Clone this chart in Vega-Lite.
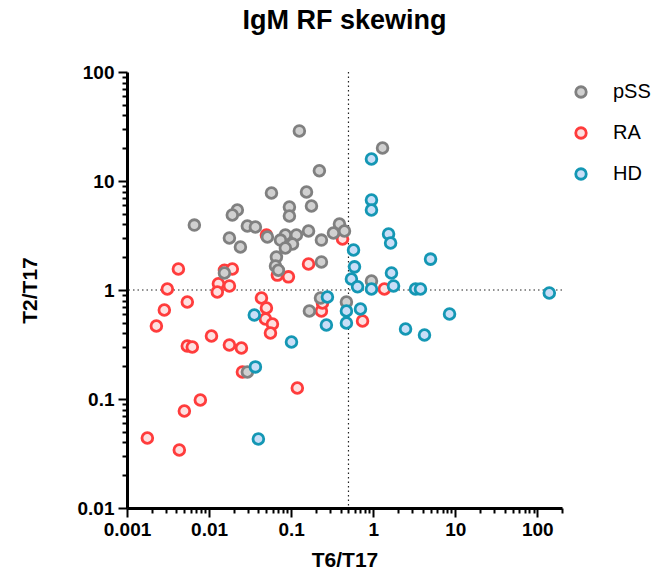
{
  "$schema": "https://vega.github.io/schema/vega-lite/v6.json",
  "width": 435,
  "height": 436,
  "autosize": "none",
  "padding": {"left": 127, "top": 72, "right": 97, "bottom": 67},
  "title": {"text": "IgM RF skewing", "fontSize": 27, "font": "Liberation Sans", "fontWeight": "bold", "color": "black", "offset": 28, "anchor": "middle"},
  "config": {
    "view": {"stroke": null},
    "font": "Liberation Sans",
    "axis": {"grid": false, "domainColor": "black", "tickColor": "black", "labelColor": "black", "titleColor": "black", "labelFont": "Liberation Sans", "titleFont": "Liberation Sans"}
  },
  "layer": [
    {
      "data": {"values": [{"v": 0.5}]},
      "mark": {"type": "rule", "strokeDash": [1.5, 3], "strokeWidth": 1.2, "color": "#222222"},
      "encoding": {
        "x": {"field": "v", "type": "quantitative", "scale": {"type": "log", "domain": [0.001, 200], "nice": false},
          "axis": {"orient": "bottom", "values": [0.002,0.003,0.004,0.005,0.006,0.007,0.008,0.009,0.02,0.03,0.04,0.05,0.06,0.07,0.08,0.09,0.2,0.3,0.4,0.5,0.6,0.7,0.8,0.9,2,3,4,5,6,7,8,9,20,30,40,50,60,70,80,90,200], "labels": false, "domain": false, "tickSize": 5, "tickWidth": 2, "title": null}}
      }
    },
    {
      "data": {"values": [{"v": 1}]},
      "mark": {"type": "rule", "strokeDash": [1.5, 3], "strokeWidth": 1.2, "color": "#222222"},
      "encoding": {
        "y": {"field": "v", "type": "quantitative", "scale": {"type": "log", "domain": [0.01, 100], "nice": false},
          "axis": {"orient": "left", "values": [0.02,0.03,0.04,0.05,0.06,0.07,0.08,0.09,0.2,0.3,0.4,0.5,0.6,0.7,0.8,0.9,2,3,4,5,6,7,8,9,20,30,40,50,60,70,80,90], "labels": false, "domain": false, "tickSize": 5, "tickWidth": 2, "title": null}}
      }
    },
    {
      "data": {"values": [
        {"g": "RA", "x": 0.00423, "y": 1.56},
        {"g": "RA", "x": 0.0154, "y": 1.52},
        {"g": "RA", "x": 0.0192, "y": 1.56},
        {"g": "RA", "x": 0.0130, "y": 1.14},
        {"g": "RA", "x": 0.0177, "y": 1.09},
        {"g": "RA", "x": 0.0126, "y": 0.96},
        {"g": "RA", "x": 0.0031, "y": 1.02},
        {"g": "RA", "x": 0.00543, "y": 0.776},
        {"g": "RA", "x": 0.00285, "y": 0.656},
        {"g": "RA", "x": 0.00228, "y": 0.468},
        {"g": "RA", "x": 0.00543, "y": 0.306},
        {"g": "RA", "x": 0.00625, "y": 0.300},
        {"g": "RA", "x": 0.0107, "y": 0.378},
        {"g": "RA", "x": 0.0177, "y": 0.313},
        {"g": "RA", "x": 0.0248, "y": 0.294},
        {"g": "RA", "x": 0.0435, "y": 0.845},
        {"g": "RA", "x": 0.050, "y": 0.684},
        {"g": "RA", "x": 0.0487, "y": 0.542},
        {"g": "RA", "x": 0.0592, "y": 0.488},
        {"g": "RA", "x": 0.056, "y": 0.403},
        {"g": "RA", "x": 0.0255, "y": 0.177},
        {"g": "RA", "x": 0.00783, "y": 0.098},
        {"g": "RA", "x": 0.0050, "y": 0.0776},
        {"g": "RA", "x": 0.00177, "y": 0.0439},
        {"g": "RA", "x": 0.00434, "y": 0.034},
        {"g": "RA", "x": 0.119, "y": 0.126},
        {"g": "RA", "x": 0.163, "y": 1.73},
        {"g": "RA", "x": 0.068, "y": 1.37},
        {"g": "RA", "x": 0.0927, "y": 1.32},
        {"g": "RA", "x": 0.234, "y": 0.642},
        {"g": "RA", "x": 0.742, "y": 0.520},
        {"g": "RA", "x": 0.050, "y": 3.20},
        {"g": "RA", "x": 0.423, "y": 2.94},
        {"g": "RA", "x": 0.241, "y": 0.760},
        {"g": "RA", "x": 1.37, "y": 1.02},
        {"g": "pSS", "x": 0.126, "y": 28.8},
        {"g": "pSS", "x": 1.30, "y": 20.1},
        {"g": "pSS", "x": 0.221, "y": 12.4},
        {"g": "pSS", "x": 0.0576, "y": 7.76},
        {"g": "pSS", "x": 0.154, "y": 7.93},
        {"g": "pSS", "x": 0.177, "y": 5.90},
        {"g": "pSS", "x": 0.0953, "y": 5.77},
        {"g": "pSS", "x": 0.0953, "y": 4.77},
        {"g": "pSS", "x": 0.0221, "y": 5.42},
        {"g": "pSS", "x": 0.0192, "y": 4.88},
        {"g": "pSS", "x": 0.00662, "y": 3.94},
        {"g": "pSS", "x": 0.0293, "y": 3.86},
        {"g": "pSS", "x": 0.0367, "y": 3.78},
        {"g": "pSS", "x": 0.0177, "y": 3.00},
        {"g": "pSS", "x": 0.0241, "y": 2.48},
        {"g": "pSS", "x": 0.0514, "y": 3.06},
        {"g": "pSS", "x": 0.0851, "y": 3.20},
        {"g": "pSS", "x": 0.116, "y": 3.20},
        {"g": "pSS", "x": 0.0742, "y": 2.87},
        {"g": "pSS", "x": 0.104, "y": 2.64},
        {"g": "pSS", "x": 0.0851, "y": 2.43},
        {"g": "pSS", "x": 0.163, "y": 3.48},
        {"g": "pSS", "x": 0.234, "y": 2.87},
        {"g": "pSS", "x": 0.328, "y": 3.33},
        {"g": "pSS", "x": 0.388, "y": 4.03},
        {"g": "pSS", "x": 0.447, "y": 3.48},
        {"g": "pSS", "x": 0.0662, "y": 2.01},
        {"g": "pSS", "x": 0.0645, "y": 1.66},
        {"g": "pSS", "x": 0.070, "y": 1.52},
        {"g": "pSS", "x": 0.234, "y": 1.81},
        {"g": "pSS", "x": 0.0154, "y": 1.43},
        {"g": "pSS", "x": 0.953, "y": 1.21},
        {"g": "pSS", "x": 0.228, "y": 0.845},
        {"g": "pSS", "x": 0.167, "y": 0.642},
        {"g": "pSS", "x": 0.472, "y": 0.776},
        {"g": "pSS", "x": 0.0293, "y": 0.177},
        {"g": "HD", "x": 0.953, "y": 15.9},
        {"g": "HD", "x": 0.953, "y": 6.70},
        {"g": "HD", "x": 0.953, "y": 5.42},
        {"g": "HD", "x": 1.54, "y": 3.26},
        {"g": "HD", "x": 1.63, "y": 2.70},
        {"g": "HD", "x": 0.576, "y": 2.33},
        {"g": "HD", "x": 5.00, "y": 1.92},
        {"g": "HD", "x": 0.592, "y": 1.63},
        {"g": "HD", "x": 0.543, "y": 1.26},
        {"g": "HD", "x": 0.645, "y": 1.07},
        {"g": "HD", "x": 0.953, "y": 1.02},
        {"g": "HD", "x": 1.67, "y": 1.43},
        {"g": "HD", "x": 1.77, "y": 1.09},
        {"g": "HD", "x": 3.28, "y": 1.02},
        {"g": "HD", "x": 3.77, "y": 1.02},
        {"g": "HD", "x": 8.52, "y": 0.602},
        {"g": "HD", "x": 2.48, "y": 0.439},
        {"g": "HD", "x": 4.22, "y": 0.387},
        {"g": "HD", "x": 0.700, "y": 0.670},
        {"g": "HD", "x": 0.472, "y": 0.642},
        {"g": "HD", "x": 0.472, "y": 0.498},
        {"g": "HD", "x": 0.277, "y": 0.863},
        {"g": "HD", "x": 0.269, "y": 0.478},
        {"g": "HD", "x": 0.0356, "y": 0.590},
        {"g": "HD", "x": 0.101, "y": 0.333},
        {"g": "HD", "x": 0.0367, "y": 0.197},
        {"g": "HD", "x": 0.0399, "y": 0.043},
        {"g": "HD", "x": 140, "y": 0.938}
      ]},
      "mark": {"type": "point", "shape": "circle", "size": 115, "strokeWidth": 2.8, "opacity": 1, "fillOpacity": 1, "strokeOpacity": 1},
      "encoding": {
        "x": {"field": "x", "type": "quantitative", "scale": {"type": "log", "domain": [0.001, 200], "nice": false},
          "axis": {"orient": "bottom", "values": [0.001, 0.01, 0.1, 1, 10, 100], "format": "~g", "domainWidth": 3, "tickWidth": 2, "tickSize": 9, "labelFontSize": 19, "labelFontWeight": "bold", "labelPadding": 3, "labelFlush": false, "labelOverlap": false, "title": "T6/T17", "titleFontSize": 21, "titleFontWeight": "bold", "titlePadding": 10}},
        "y": {"field": "y", "type": "quantitative", "scale": {"type": "log", "domain": [0.01, 100], "nice": false},
          "axis": {"orient": "left", "values": [0.01, 0.1, 1, 10, 100], "format": "~g", "domainWidth": 3, "tickWidth": 2, "tickSize": 9, "labelFontSize": 19, "labelFontWeight": "bold", "labelPadding": 4, "labelFlush": false, "labelOverlap": false, "title": "T2/T17", "titleFontSize": 21, "titleFontWeight": "bold", "titlePadding": 37}},
        "stroke": {"field": "g", "type": "nominal", "scale": {"domain": ["pSS", "RA", "HD"], "range": ["#808080", "#ff3c3c", "#1497b4"]},
          "legend": {"orient": "none", "legendX": 444, "legendY": 10, "title": null, "symbolSize": 110, "symbolStrokeWidth": 2.8, "labelFontSize": 20, "labelFont": "Liberation Sans", "labelColor": "black", "rowPadding": 19, "labelOffset": 22, "padding": 0}},
        "fill": {"field": "g", "type": "nominal", "scale": {"domain": ["pSS", "RA", "HD"], "range": ["#d0d0d0", "#fde0e0", "#c9def7"]},
          "legend": {"orient": "none", "legendX": 444, "legendY": 10, "title": null, "symbolSize": 110, "symbolStrokeWidth": 2.8, "labelFontSize": 20, "labelFont": "Liberation Sans", "labelColor": "black", "rowPadding": 19, "labelOffset": 22, "padding": 0}}
      }
    }
  ],
  "resolve": {"axis": {"x": "independent", "y": "independent"}}
}
